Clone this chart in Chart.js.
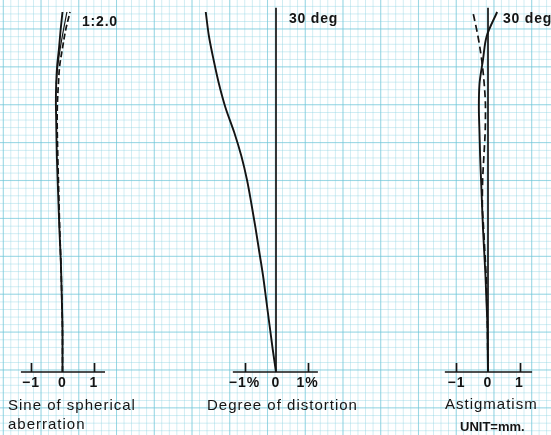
<!DOCTYPE html>
<html><head><meta charset="utf-8">
<script src="https://cdn.jsdelivr.net/npm/chart.js@4"></script>
<style>
html,body{margin:0;padding:0;background:#fff;}
#wrap{position:relative;width:551px;height:435px;overflow:hidden;background-color:#fff;
 background-image:
  linear-gradient(to right, rgba(105,195,214,0.55) 1.3px, transparent 1.3px),
  linear-gradient(to bottom, rgba(105,195,214,0.55) 1.3px, transparent 1.3px),
  linear-gradient(to right, rgba(140,210,226,0.42) 1px, transparent 1px),
  linear-gradient(to bottom, rgba(140,210,226,0.42) 1px, transparent 1px);
 background-size: 37.75px 100%, 100% 37.9px, 7.55px 100%, 100% 7.58px;
 background-position: 2.8px 0, 0 28.4px, 2.8px 0, 0 5.9px;}
canvas{position:absolute;left:0;top:0;}
</style></head>
<body><div id="wrap"><canvas id="c" width="551" height="435"></canvas></div>
<script>
// ---- data ----
const apertureH = [0, 0.1, 0.2, 0.3, 0.4, 0.5, 0.6, 0.7, 0.75, 0.8, 0.85, 0.9, 0.95, 1.0];
const sphericalAberration = [0, 0, -0.02, -0.05, -0.1, -0.14, -0.18, -0.2, -0.21, -0.2, -0.17, -0.11, -0.06, 0];
const sineCondition = [0, 0, -0.02, -0.05, -0.09, -0.12, -0.15, -0.17, -0.16, -0.13, -0.09, 0.0, 0.1, 0.24];
const apertureHUpper = [0.8, 0.85, 0.9, 0.95, 1.0];
const sphericalAberrationUpper = [-0.2, -0.15, -0.07, 0.03, 0.14];

const fieldAngleDeg = [0, 2, 4, 6, 8, 10, 12, 14, 16, 18, 20, 22, 24, 26, 28, 30];
const distortionPct = [0, -0.11, -0.21, -0.31, -0.41, -0.53, -0.65, -0.78, -0.92, -1.1, -1.33, -1.6, -1.81, -1.98, -2.13, -2.23];
const astigSagittal = [0, -0.01, -0.02, -0.05, -0.08, -0.12, -0.16, -0.19, -0.22, -0.25, -0.27, -0.29, -0.27, -0.16, -0.04, 0.29];
const astigMeridional = [0, -0.01, -0.02, -0.04, -0.06, -0.1, -0.14, -0.18, -0.17, -0.13, -0.09, -0.08, -0.12, -0.2, -0.32, -0.48];

const tickValues = [-1, 0, 1];
const tickLabelsSA = ['\u22121', '0', '1'];
const tickLabelsDist = ['\u22121%', '0', '1%'];
const tickLabelsAst = ['\u22121', '0', '1'];

// ---- layout constants (pixels) ----
const W = 551, H = 435, BASE_Y = 372, TOP_Y = 12, UNIT_PX = 31.5;
const ZERO_SA = 62.5, ZERO_D = 276, ZERO_A = 488;

const pts = (xs, ys) => xs.map((v, i) => ({x: v, y: ys[i]}));
const ink = '#141414';

const lineDs = (data, xId, yId, extra) => Object.assign({
  data, xAxisID: xId, yAxisID: yId, borderColor: ink, borderWidth: 1.9,
  pointRadius: 0, fill: false, cubicInterpolationMode: 'monotone', showLine: true
}, extra || {});

const panels = [
  {x: 'xSA', from: -1.32, to: 1.35, ticks: [-1, 1], zero: false, labels: tickLabelsSA},
  {x: 'xD', from: -1.37, to: 1.33, ticks: [-1, 1], zero: true, labels: tickLabelsDist},
  {x: 'xA', from: -1.37, to: 1.40, ticks: [-1, 1], zero: true, labels: tickLabelsAst}
];

const overlay = {
  id: 'overlay',
  afterDatasetsDraw(chart) {
    const ctx = chart.ctx, s = chart.scales;
    const yb = s.yH.getPixelForValue(0);
    ctx.save();
    ctx.strokeStyle = ink; ctx.fillStyle = ink; ctx.lineWidth = 1.7; ctx.lineCap = 'butt';
    panels.forEach(p => {
      const sc = s[p.x];
      ctx.beginPath();
      ctx.moveTo(sc.getPixelForValue(p.from), yb);
      ctx.lineTo(sc.getPixelForValue(p.to), yb);
      p.ticks.forEach(t => {
        const x = Math.round(sc.getPixelForValue(t)) + 0.5;
        ctx.moveTo(x, yb); ctx.lineTo(x, yb - 9);
      });
      if (p.zero) {
        const x = sc.getPixelForValue(0);
        ctx.moveTo(x, yb); ctx.lineTo(x, s.yD.getPixelForValue(30.35));
      }
      ctx.stroke();
      ctx.font = 'bold 14px "Liberation Sans", Arial, sans-serif';
      ctx.textAlign = 'center'; ctx.textBaseline = 'alphabetic';
      ctx.letterSpacing = '1px';
      tickValues.forEach((v, i) => {
        ctx.fillText(p.labels[i], sc.getPixelForValue(v), yb + 15);
      });
    });
    // titles
    ctx.textAlign = 'left';
    ctx.font = '15px "Liberation Sans", Arial, sans-serif';
    ctx.letterSpacing = '1px';
    ctx.fillText('Sine of spherical', 8, 410);
    ctx.fillText('aberration', 8, 429);
    ctx.fillText('Degree of distortion', 207, 410);
    ctx.fillText('Astigmatism', 445, 409);
    ctx.font = 'bold 14px "Liberation Sans", Arial, sans-serif';
    ctx.letterSpacing = '0.8px';
    ctx.fillText('1:2.0', 82, 26);
    ctx.fillText('30 deg', 289, 23);
    ctx.fillText('30 deg', 503, 23);
    ctx.font = 'bold 13px "Liberation Sans", Arial, sans-serif';
    ctx.letterSpacing = '0px';
    ctx.fillText('UNIT=mm.', 460, 431);
    ctx.restore();
  }
};

new Chart(document.getElementById('c'), {
  type: 'scatter',
  data: {
    datasets: [
      lineDs(pts(sphericalAberration, apertureH), 'xSA', 'yH'),
      lineDs(pts(sphericalAberrationUpper, apertureHUpper), 'xSA', 'yH', {borderWidth: 1.2}),
      lineDs(pts(sineCondition, apertureH), 'xSA', 'yH', {borderDash: [6, 3], borderWidth: 1.7}),
      lineDs(pts(distortionPct, fieldAngleDeg), 'xD', 'yD'),
      lineDs(pts(astigSagittal, fieldAngleDeg), 'xA', 'yD'),
      lineDs(pts(astigMeridional, fieldAngleDeg), 'xA', 'yD', {borderDash: [7, 4], borderWidth: 1.7})
    ]
  },
  options: {
    indexAxis: 'y',
    responsive: false, animation: false, events: [],
    layout: {padding: 0},
    plugins: {legend: {display: false}, tooltip: {enabled: false}},
    scales: {
      xSA: {type: 'linear', display: false, min: -ZERO_SA / UNIT_PX, max: (W - ZERO_SA) / UNIT_PX},
      xD: {type: 'linear', display: false, min: -ZERO_D / UNIT_PX, max: (W - ZERO_D) / UNIT_PX},
      xA: {type: 'linear', display: false, min: -ZERO_A / UNIT_PX, max: (W - ZERO_A) / UNIT_PX},
      yH: {type: 'linear', display: false, min: -(H - BASE_Y) / (BASE_Y - TOP_Y), max: 1 + TOP_Y / (BASE_Y - TOP_Y)},
      yD: {type: 'linear', display: false, min: -(H - BASE_Y) / ((BASE_Y - TOP_Y) / 30), max: 30 + TOP_Y / ((BASE_Y - TOP_Y) / 30)}
    }
  },
  plugins: [overlay]
});
</script></body></html>
